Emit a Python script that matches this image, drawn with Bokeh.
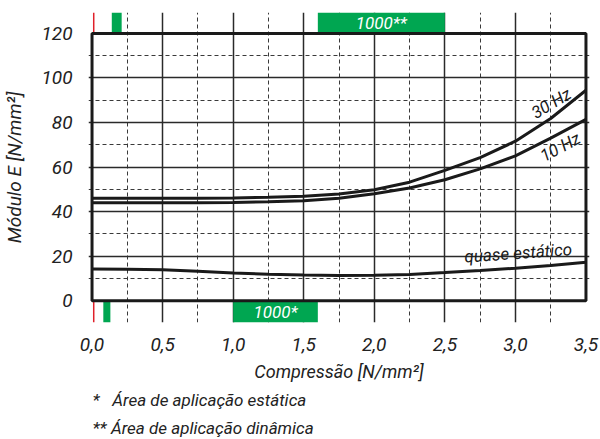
from bokeh.plotting import figure
from bokeh.models import FixedTicker, CustomJSTickFormatter, Label, Range1d, Title
from bokeh.embed import file_html
from bokeh.resources import INLINE
from bokeh.core.properties import value

FONT = "Roboto"

# ---- data ----
compression = [0.0, 0.25, 0.5, 0.75, 1.0, 1.25, 1.5, 1.75, 2.0, 2.25, 2.5, 2.75, 3.0, 3.25, 3.5]
e_30hz = [46.0, 46.0, 46.0, 46.0, 46.1, 46.4, 46.9, 47.9, 49.8, 53.2, 58.5, 64.2, 71.6, 81.8, 94.5]
e_10hz = [44.0, 44.0, 44.0, 44.0, 44.1, 44.4, 44.9, 46.0, 48.0, 50.6, 54.3, 59.2, 65.0, 73.0, 81.4]
e_quasi = [14.2, 14.1, 13.9, 13.2, 12.4, 11.9, 11.5, 11.3, 11.4, 11.8, 12.6, 13.5, 14.6, 15.8, 17.3]

x_ticks = [0.0, 0.5, 1.0, 1.5, 2.0, 2.5, 3.0, 3.5]
x_minor = [0.25, 0.75, 1.25, 1.75, 2.25, 2.75, 3.25]
y_ticks = [0, 20, 40, 60, 80, 100, 120]
y_minor = [10, 30, 50, 70, 90, 110]

# application areas (compression ranges)
static_left = [0.08, 1.0]
static_right = [0.13, 1.6]
static_text = ["", "1000*"]
dynamic_left = [0.14, 1.6]
dynamic_right = [0.21, 2.5]
dynamic_text = ["", "1000**"]
red_marker_x = 0.012

band_low = -9.8
band_high = 129.4

footnotes = ["*\u2002 Área de aplicação estática", "** Área de aplicação dinâmica"]

GREEN = "#00a651"
INK = "#1a1a1a"

p = figure(width=600, height=439,
           x_range=Range1d(-0.025, 3.525), y_range=Range1d(band_low, band_high),
           output_backend="svg", toolbar_location=None,
           min_border_left=86, min_border_right=11, min_border_top=12, min_border_bottom=116)
p.outline_line_color = None
p.background_fill_color = "white"
p.border_fill_color = "white"

# grids
x0, x1 = x_ticks[0], x_ticks[-1]
y0, y1 = y_ticks[0], y_ticks[-1]
p.xgrid.ticker = FixedTicker(ticks=x_ticks[1:-1], minor_ticks=x_minor)
p.xgrid.bounds = (y0, y1)
p.ygrid.ticker = FixedTicker(ticks=y_ticks[1:-1], minor_ticks=y_minor)
p.ygrid.bounds = (x0, x1)
for g in (p.xgrid, p.ygrid):
    g.grid_line_color = "#2a2a2a"
    g.grid_line_width = 1.5
    g.minor_grid_line_color = "#3a3a3a"
    g.minor_grid_line_width = 1
    g.minor_grid_line_dash = "4 3"

# axes
p.xaxis.ticker = FixedTicker(ticks=x_ticks)
p.yaxis.ticker = FixedTicker(ticks=y_ticks)
p.xaxis.formatter = CustomJSTickFormatter(code="return tick.toFixed(1).replace('.', ',');")
for ax in (p.xaxis, p.yaxis):
    ax.axis_line_color = None
    ax.major_tick_line_color = None
    ax.minor_tick_line_color = None
    ax.major_label_text_font = FONT
    ax.major_label_text_font_style = "italic"
    ax.major_label_text_font_size = "19px"
    ax.major_label_text_color = "#222222"
    ax.axis_label_text_font = FONT
    ax.axis_label_text_font_style = "italic"
    ax.axis_label_text_color = "#222222"
p.xaxis.axis_label_text_font_size = "18px"
p.yaxis.axis_label_text_font_size = "19px"
p.xaxis.major_label_standoff = 9
p.yaxis.major_label_standoff = 10
p.xaxis.axis_label = "Compressão [N/mm²]"
p.xaxis.axis_label_standoff = 7
p.yaxis.axis_label = "Módulo E [N/mm²]"
p.yaxis.axis_label_standoff = 12

# application area bands
p.quad(left=static_left, right=static_right, bottom=y0, top=band_low,
       fill_color=GREEN, line_color=None)
p.quad(left=dynamic_left, right=dynamic_right, bottom=y1, top=band_high,
       fill_color=GREEN, line_color=None)
p.text(x=[(a + b) / 2 for a, b in zip(static_left, static_right)],
       y=[(y0 + band_low) / 2] * len(static_left), text=static_text,
       text_font=value(FONT), text_font_style="italic", text_font_size="17px",
       text_color="white", text_align="center", text_baseline="middle")
p.text(x=[(a + b) / 2 for a, b in zip(dynamic_left, dynamic_right)],
       y=[(y1 + band_high) / 2] * len(dynamic_left), text=dynamic_text,
       text_font=value(FONT), text_font_style="italic", text_font_size="17px",
       text_color="white", text_align="center", text_baseline="middle")
p.segment(x0=[red_marker_x, red_marker_x], y0=[y1, y0],
          x1=[red_marker_x, red_marker_x], y1=[band_high, band_low],
          line_color="#e0202a", line_width=1.5)

# curves
p.line(compression, e_30hz, line_color=INK, line_width=3)
p.line(compression, e_10hz, line_color=INK, line_width=3)
p.line(compression, e_quasi, line_color=INK, line_width=3)

# frame
p.quad(left=x0, right=x1, bottom=y0, top=y1, fill_color=None,
       line_color=INK, line_width=3)

def lab(x, y, text, angle=0.0, size="17px", align="center", color=INK):
    p.add_layout(Label(x=x, y=y, text=text, angle=angle,
                       text_font=FONT, text_font_style="italic",
                       text_font_size=size, text_color=color,
                       text_align=align, text_baseline="middle"))

lab(3.253, 88.7, "30 Hz", angle=0.54)
lab(3.317, 69.0, "10 Hz", angle=0.49)
lab(3.02, 21.5, "quase estático", angle=0.07)

# footnotes below the axis
for t, sd in zip(footnotes, [7, 4]):
    p.add_layout(Title(text=t, align="left", offset=4, standoff=sd,
                       text_font=FONT, text_font_style="italic",
                       text_font_size="17px",
                       text_color="#222222"), "below")

open("out.html", "w").write(file_html(p, INLINE))
